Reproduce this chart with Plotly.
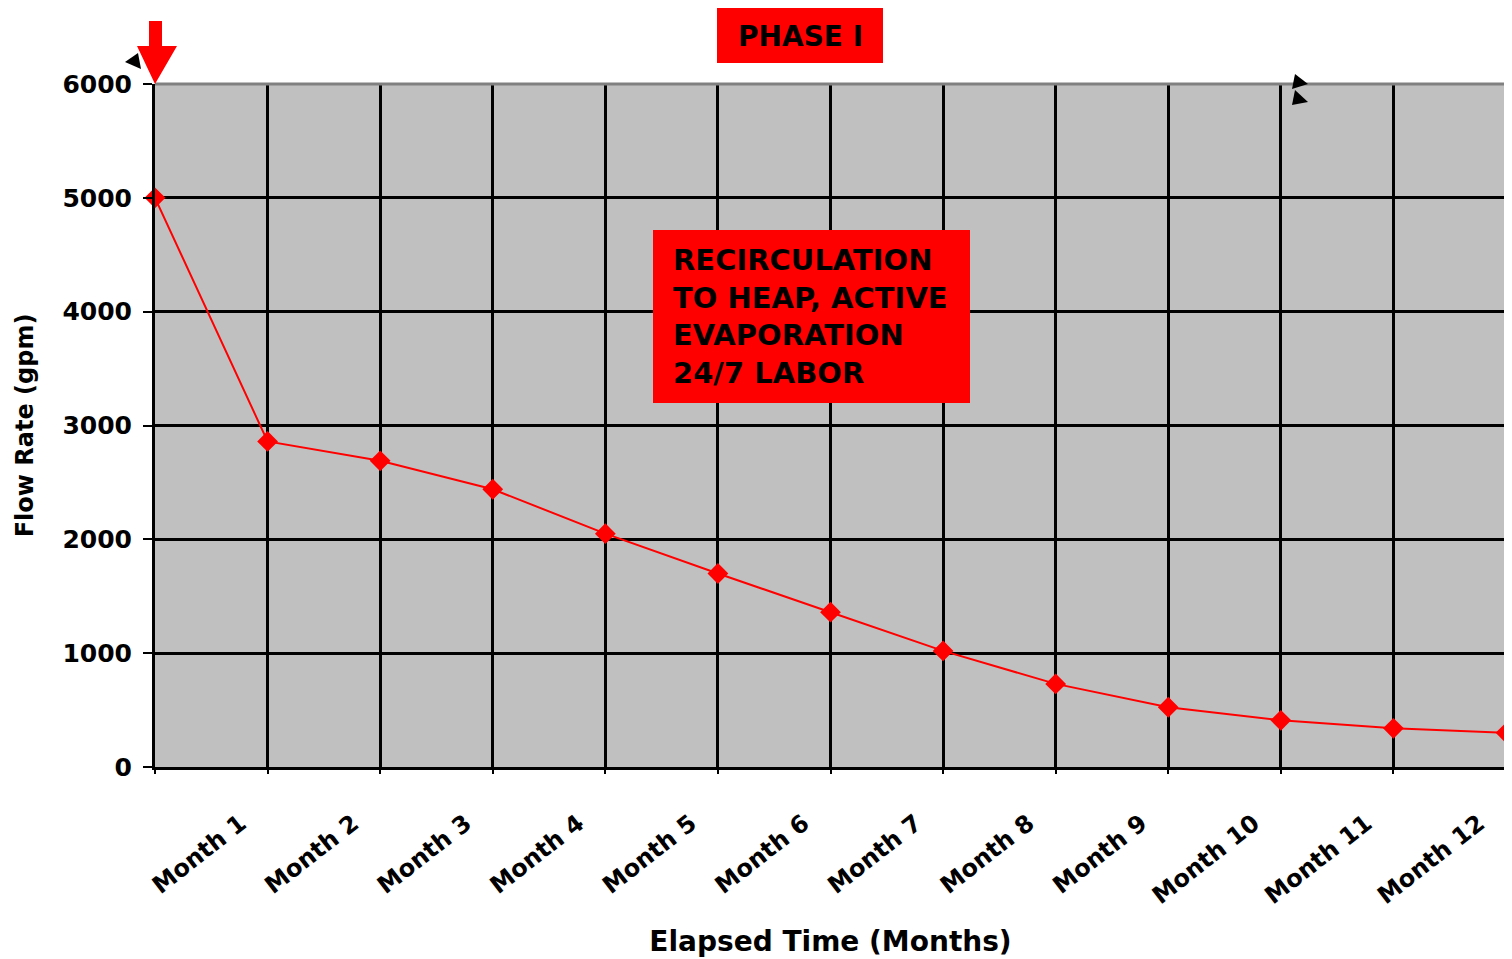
import plotly.graph_objects as go

# ---- data ----
x_index = list(range(13))
flow_gpm = [5000, 2860, 2690, 2440, 2050, 1700, 1360, 1020, 730, 525, 410, 340, 300]
month_labels = ["Month %d" % i for i in range(1, 13)]
y_ticks = [0, 1000, 2000, 3000, 4000, 5000, 6000]
label_shift = 0.24  # labels sit slightly left of their category line

FONT = "DejaVu Sans"
RED = "#FF0000"

fig = go.Figure()
fig.add_trace(go.Scatter(
    x=x_index, y=flow_gpm, mode="lines+markers",
    line=dict(color=RED, width=2),
    marker=dict(symbol="diamond", size=16, color=RED),
    cliponaxis=False, showlegend=False, hoverinfo="skip",
))

# page body has an 8px margin; figure is sized so that screen coords match
OFF = 8
W, H = 1512 - OFF, 959 - OFF
PL, PR, PT, PB = 155, 1506, 84, 767  # plot area in screen px
L, R, T, B = PL - OFF, 1512 - PR, PT - OFF, 959 - PB

def px(xp):
    return (xp - PL) / (PR - PL)

def py(yp):
    return 1 - (yp - PT) / (PB - PT)

def poly(points):
    return "M " + " L ".join("%.5f,%.5f" % (px(a), py(b)) for a, b in points) + " Z"

shapes = []
# gray top and right border
shapes.append(dict(type="line", xref="paper", yref="paper", x0=0, x1=1, y0=1, y1=1,
                   line=dict(color="#808080", width=3), layer="above"))
shapes.append(dict(type="line", xref="paper", yref="paper", x0=1, x1=1, y0=0, y1=1,
                   line=dict(color="#808080", width=3), layer="above"))
# red text boxes
shapes.append(dict(type="rect", xref="paper", yref="paper",
                   x0=px(717), x1=px(883), y0=py(63), y1=py(7),
                   fillcolor=RED, line=dict(width=0), layer="above"))
shapes.append(dict(type="rect", xref="paper", yref="paper",
                   x0=px(653), x1=px(970), y0=py(403), y1=py(230),
                   fillcolor=RED, line=dict(width=0), layer="above"))
# red down arrow at start
shapes.append(dict(type="path", xref="paper", yref="paper",
                   path=poly([(149, 21), (162, 21), (162, 46), (177, 46), (155, 84),
                              (137, 46), (149, 46)]),
                   fillcolor=RED, line=dict(width=0), layer="above"))
# small black arrowheads
for tri in ([(125, 62), (138, 53), (141, 69)],
            [(1295, 74), (1308, 84), (1292, 89)],
            [(1295, 90), (1308, 102), (1292, 105)]):
    shapes.append(dict(type="path", xref="paper", yref="paper", path=poly(tri),
                       fillcolor="black", line=dict(width=0), layer="above"))

annotations = [
    dict(xref="paper", yref="paper", x=px(800), y=py(36), text="PHASE I",
         showarrow=False, xanchor="center", yanchor="middle",
         font=dict(family=FONT, size=28, color="black", weight="bold")),
    dict(xref="paper", yref="paper", x=px(671), y=py(317),
         text="RECIRCULATION<br>TO HEAP, ACTIVE<br>EVAPORATION<br>24/7 LABOR",
         showarrow=False, xanchor="left", yanchor="middle", align="left",
         font=dict(family=FONT, size=29, color="black", weight="bold")),
]

fig.update_layout(
    width=W, height=H,
    margin=dict(l=L, r=R, t=T, b=B),
    paper_bgcolor="white", plot_bgcolor="#C0C0C0",
    shapes=shapes, annotations=annotations,
    xaxis=dict(
        range=[0, 12], tickmode="array",
        tickvals=[v - label_shift for v in x_index[1:]], ticktext=month_labels,
        tickangle=-38, ticklabelstandoff=30, ticks="",
        tickfont=dict(family=FONT, size=24, color="black", weight="bold"),
        showgrid=False,
        minor=dict(tickmode="linear", tick0=0, dtick=1, showgrid=True,
                   gridcolor="black", gridwidth=2.5,
                   ticks="outside", ticklen=4, tickcolor="black", tickwidth=2),
        showline=True, linecolor="black", linewidth=3,
        zeroline=False,
        title=dict(text="Elapsed Time (Months)", standoff=23,
                   font=dict(family=FONT, size=28, color="black", weight="bold")),
    ),
    yaxis=dict(
        range=[0, 6000], tickmode="array", tickvals=y_ticks,
        tickfont=dict(family=FONT, size=25, color="black", weight="bold"),
        showgrid=True, gridcolor="black", gridwidth=2.5,
        showline=True, linecolor="black", linewidth=3,
        ticks="outside", ticklen=9, tickcolor="black", tickwidth=2,
        ticklabelstandoff=6, zeroline=False,
        title=dict(text="Flow Rate (gpm)", standoff=23,
                   font=dict(family=FONT, size=24, color="black", weight="bold")),
    ),
)

fig.write_html("out.html")
